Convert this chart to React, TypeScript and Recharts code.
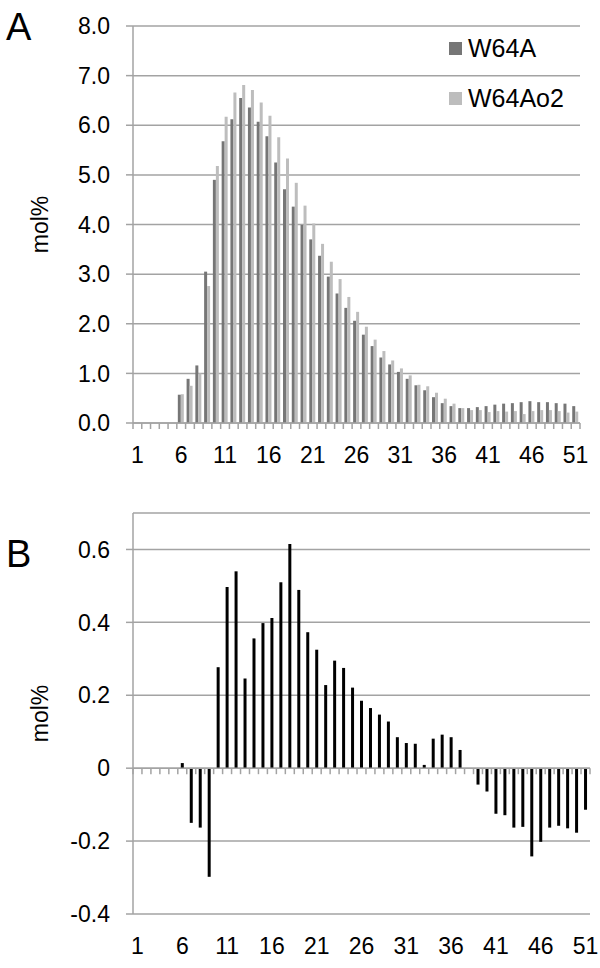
import React from "react";
import { BarChart, Bar, XAxis, YAxis, CartesianGrid, ReferenceLine } from "recharts";

// ── Data ────────────────────────────────────────────────────────────────────

const positions = [
  "1", "2", "3", "4", "5", "6", "7", "8", "9", "10",
  "11", "12", "13", "14", "15", "16", "17", "18", "19", "20",
  "21", "22", "23", "24", "25", "26", "27", "28", "29", "30",
  "31", "32", "33", "34", "35", "36", "37", "38", "39", "40",
  "41", "42", "43", "44", "45", "46", "47", "48", "49", "50", "51",
];

const shownLabels = ["1", "6", "11", "16", "21", "26", "31", "36", "41", "46", "51"];

const w64a = [
  0, 0, 0, 0, 0, 0.57, 0.89, 1.16, 3.05, 4.9,
  5.68, 6.12, 6.55, 6.36, 6.07, 5.78, 5.25, 4.71, 4.36, 3.99,
  3.7, 3.37, 2.95, 2.61, 2.32, 2.06, 1.78, 1.55, 1.32, 1.18,
  1.03, 0.89, 0.76, 0.66, 0.52, 0.4, 0.34, 0.3, 0.3, 0.32,
  0.34, 0.37, 0.39, 0.4, 0.42, 0.44, 0.42, 0.42, 0.4, 0.39, 0.34,
];

const w64ao2 = [
  0, 0, 0, 0, 0, 0.58, 0.75, 1.0, 2.76, 5.18,
  6.17, 6.66, 6.81, 6.71, 6.46, 6.19, 5.76, 5.33, 4.84, 4.38,
  4.02, 3.61, 3.25, 2.9, 2.54, 2.24, 1.94, 1.68, 1.45, 1.26,
  1.1, 0.96, 0.77, 0.74, 0.61, 0.49, 0.39, 0.3, 0.26, 0.26,
  0.22, 0.24, 0.23, 0.24, 0.18, 0.24, 0.26, 0.26, 0.24, 0.21, 0.23,
];

const diff = [
  0, 0, 0, 0, 0, 0.014, -0.15, -0.163, -0.298, 0.277,
  0.497, 0.54, 0.246, 0.356, 0.398, 0.412, 0.51, 0.615, 0.489, 0.373,
  0.325, 0.228, 0.295, 0.275, 0.221, 0.185, 0.165, 0.147, 0.128, 0.085,
  0.069, 0.067, 0.009, 0.081, 0.092, 0.085, 0.05, 0, -0.045, -0.064,
  -0.125, -0.129, -0.163, -0.161, -0.242, -0.202, -0.163, -0.158, -0.165, -0.177, -0.114,
];

const ticksA = [0, 1, 2, 3, 4, 5, 6, 7, 8];
const ticksB = [-0.4, -0.2, 0, 0.2, 0.4, 0.6];

const seriesA = [
  { key: "w64a", name: "W64A", color: "#767676" },
  { key: "w64ao2", name: "W64Ao2", color: "#bdbdbd" },
];

const dataA = positions.map((p, i) => ({ pos: p, w64a: w64a[i], w64ao2: w64ao2[i] }));
const dataB = positions.map((p, i) => ({ pos: p, diff: diff[i] }));

// ── Styling helpers ─────────────────────────────────────────────────────────

const GRID = "#a3a3a3";
const FONT = 23;

function CatTick({ x, y, payload }: any) {
  if (!shownLabels.includes(String(payload.value))) return <g />;
  return (
    <text x={x} y={y + 32} dy="0.36em" textAnchor="middle" fontSize={FONT} fill="#000">
      {payload.value}
    </text>
  );
}

// category axis drawn at y=0, with Excel style tick marks between categories
function ZeroAxis(props: any) {
  const { x1, x2, y1 } = props;
  const step = (x2 - x1) / positions.length;
  const marks = [];
  for (let i = 0; i <= positions.length; i++) {
    const x = x1 + i * step;
    marks.push(<line key={i} x1={x} x2={x} y1={y1} y2={y1 + 6} stroke={GRID} strokeWidth={1.5} />);
  }
  return (
    <g>
      <line x1={x1} x2={x2} y1={y1} y2={y1} stroke={GRID} strokeWidth={1.5} />
      {marks}
    </g>
  );
}

function LegendBox() {
  return (
    <div style={{ position: "absolute", left: 449, top: 23 }}>
      {seriesA.map((s) => (
        <div key={s.key} style={{ display: "flex", alignItems: "center", height: 50 }}>
          <span style={{ width: 13, height: 13, background: s.color, marginRight: 6, display: "inline-block" }} />
          <span style={{ fontSize: 25, color: "#000" }}>{s.name}</span>
        </div>
      ))}
    </div>
  );
}

function PanelLetter({ text, top }: { text: string; top: number }) {
  return (
    <svg width={50} height={50} style={{ position: "absolute", left: 0, top }}>
      <text x={6} y={40} fontSize={38} fill="#000">
        {text}
      </text>
    </svg>
  );
}

// ── Main ────────────────────────────────────────────────────────────────────

export default function App() {
  return (
    <div
      style={{
        position: "absolute",
        left: 0,
        top: 0,
        width: 600,
        height: 968,
        background: "#fff",
        fontFamily: "'Liberation Sans', Arial, sans-serif",
      }}
    >
      <div style={{ position: "absolute", left: 0, top: 0 }}>
        <BarChart width={600} height={480} data={dataA} margin={{ top: 26, right: 20, bottom: 0, left: 0 }} barGap={0}>
          <CartesianGrid vertical={false} stroke={GRID} strokeWidth={1.5} />
          <XAxis
            dataKey="pos"
            interval={0}
            height={57}
            axisLine={false}
            tickLine={false}
            tickSize={0}
            tickMargin={0}
            tick={<CatTick />}
          />
          <YAxis
            width={133}
            domain={[0, 8]}
            ticks={ticksA}
            tickFormatter={(v: number) => v.toFixed(1)}
            axisLine={{ stroke: GRID, strokeWidth: 1.5 }}
            tickLine={{ stroke: GRID, strokeWidth: 1.5 }}
            tickSize={7}
            tickMargin={16}
            tick={{ fontSize: FONT, fill: "#000" }}
            label={{ value: "mol%", angle: -90, position: "insideLeft", offset: 40, style: { textAnchor: "middle", fontSize: FONT, fill: "#000" } }}
          />
          {seriesA.map((s) => (
            <Bar key={s.key} dataKey={s.key} name={s.name} fill={s.color} barSize={3} isAnimationActive={false} />
          ))}
          <ReferenceLine y={0} shape={<ZeroAxis />} />
        </BarChart>
      </div>
      <LegendBox />
      <PanelLetter text="A" top={0} />

      <div style={{ position: "absolute", left: 0, top: 490 }}>
        <BarChart width={600} height={478} data={dataB} margin={{ top: 23, right: 10, bottom: 0, left: 0 }}>
          <CartesianGrid vertical={false} stroke={GRID} strokeWidth={1.5} />
          <XAxis
            dataKey="pos"
            interval={0}
            height={54}
            axisLine={false}
            tickLine={false}
            tickSize={0}
            tickMargin={0}
            tick={<CatTick />}
          />
          <YAxis
            width={133}
            domain={[-0.4, 0.7]}
            ticks={ticksB}
            tickFormatter={(v: number) => (Math.abs(v) < 1e-9 ? "0" : v.toFixed(1))}
            axisLine={{ stroke: GRID, strokeWidth: 1.5 }}
            tickLine={{ stroke: GRID, strokeWidth: 1.5 }}
            tickSize={7}
            tickMargin={16}
            tick={{ fontSize: FONT, fill: "#000" }}
            label={{ value: "mol%", angle: -90, position: "insideLeft", offset: 40, style: { textAnchor: "middle", fontSize: FONT, fill: "#000" } }}
          />
          <Bar dataKey="diff" fill="#000" barSize={3} isAnimationActive={false} />
          <ReferenceLine y={0} shape={<ZeroAxis />} />
        </BarChart>
      </div>
      <PanelLetter text="B" top={527} />
    </div>
  );
}
